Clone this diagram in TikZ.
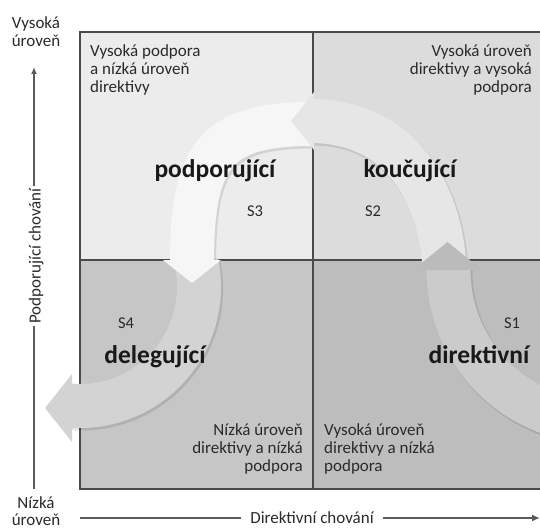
\documentclass[tikz,border=0pt]{standalone}
\usepackage{fontspec}
\setmainfont{Carlito}
\usetikzlibrary{arrows.meta}

\definecolor{quadTL}{HTML}{ECECEC}
\definecolor{quadTR}{HTML}{DCDCDC}
\definecolor{quadBL}{HTML}{C6C6C6}
\definecolor{quadBR}{HTML}{BDBDBD}
\definecolor{arrowone}{HTML}{CBCBCB}
\definecolor{arrowonehead}{HTML}{BBBBBB}
\definecolor{arrowtwo}{HTML}{E6E6E6}
\definecolor{arrowthree}{HTML}{F6F6F6}
\definecolor{arrowfour}{HTML}{D3D3D3}
\definecolor{gridline}{HTML}{4A4A4A}
\definecolor{axisline}{HTML}{5A5A5A}
\definecolor{plaintext}{HTML}{2A2A2A}

\begin{document}
\begin{tikzpicture}[x=1pt, y=1pt,
		grid/.style={draw=gridline, line width=1.3pt},
		quadtext/.style={inner sep=0pt, text=plaintext, font=\fontsize{17}{18.3}\selectfont},
		stylelabel/.style={inner sep=0pt, text=black!90, font=\fontsize{25.5}{28}\selectfont\bfseries},
		stagelabel/.style={inner sep=0pt, text=plaintext, font=\fontsize{16.5}{18}\selectfont},
		axis/.style={draw=axisline, line width=1.5pt},
		band/.style={line width=44pt},
		bandshadow/.style={line width=45pt, draw=black, opacity=0.10, shift={(1.5, -2)}},
	]
		\useasboundingbox (0, 0) rectangle (540, 531);
		\clip (0, 0) rectangle (540, 531);

		% quadrants
		\fill[quadTL] (80, 271) rectangle (313, 499);
		\fill[quadTR] (313, 271) rectangle (546, 499);
		\fill[quadBL] (80, 42) rectangle (313, 271);
		\fill[quadBR] (313, 42) rectangle (546, 271);
		\draw[grid] (80, 42) rectangle (546, 499);
		\draw[grid] (313, 42) -- (313, 499);
		\draw[grid] (80, 271) -- (546, 271);

		% S4 arrow
		\draw[bandshadow] (80, 244) ++(12:119) arc[start angle=12, end angle=-95, radius=119];
		\draw[band, arrowfour] (80, 244) ++(12:119) arc[start angle=12, end angle=-95, radius=119];
		\fill[arrowfour] (72, 89) -- (45, 123) -- (72, 157) -- cycle;

		% S3 arrow
		\draw[bandshadow] (312, 407) .. controls (215, 407) and (192, 375) .. (192, 268);
		\draw[band, arrowthree] (312, 407) .. controls (215, 407) and (192, 375) .. (192, 268);
		\fill[arrowthree] (163, 271) -- (192, 248) -- (221, 271) -- cycle;

		% S2 arrow
		\draw[bandshadow] (444, 270) .. controls (438, 345) and (395, 410) .. (311, 410);
		\draw[band, arrowtwo] (444, 270) .. controls (438, 345) and (395, 410) .. (311, 410);
		\fill[arrowtwo] (314, 381) -- (291, 410) -- (314, 439) -- cycle;

		% S1 arrow
		\draw[bandshadow] (600, 261) ++(252:151.5) arc[start angle=252, end angle=178, radius=151.5];
		\draw[band, arrowone] (600, 261) ++(252:151.5) arc[start angle=252, end angle=178, radius=151.5];
		\fill[arrowonehead] (413, 261) -- (447.5, 289) -- (482, 261) -- cycle;

		% quadrant texts
		\node[quadtext, align=left, anchor=north west] at (90, 487) (tltext) {Vysoká podpora\\a nízká úroveň\\direktivy};
		\node[quadtext, align=right, anchor=north east] at (532, 487) (trtext) {Vysoká úroveň\\direktivy a vysoká\\podpora};
		\node[quadtext, align=right, anchor=north east] at (303, 108) (bltext) {Nízká úroveň\\direktivy a nízká\\podpora};
		\node[quadtext, align=left, anchor=north west] at (324, 108) (brtext) {Vysoká úroveň\\direktivy a nízká\\podpora};

		% styles and stages
		\node[stylelabel, anchor=base] at (215, 354) (podp) {podporující};
		\node[stylelabel, anchor=base] at (410, 354) (kouc) {koučující};
		\node[stylelabel, anchor=base] at (155, 168) (deleg) {delegující};
		\node[stylelabel, anchor=base] at (479, 168) (direkt) {direktivní};
		\node[stagelabel, anchor=base] at (255, 315) (sthree) {S3};
		\node[stagelabel, anchor=base] at (373, 315) (stwo) {S2};
		\node[stagelabel, anchor=base] at (126, 203) (sfour) {S4};
		\node[stagelabel, anchor=base] at (512, 203) (sone) {S1};

		% axes
		\node[quadtext, align=center, anchor=north] at (36, 515) (hightext) {Vysoká\\úroveň};
		\node[quadtext, align=center, anchor=north, font=\fontsize{17}{17.5}\selectfont] at (36, 35) (lowtext) {Nízká\\úroveň};
		\node[quadtext, rotate=90, anchor=base, inner xsep=2pt] at (40.5, 275) (ylabel) {Podporující chování};
		\node[quadtext, anchor=base, inner xsep=9pt] at (312, 8) (xlabel) {Direktivní chování};
		\coordinate (ybottom) at (34, 42);
		\coordinate (ytop) at (34, 464);
		\coordinate (xstart) at (80, 13);
		\coordinate (xend) at (540, 13);
		\draw[axis] (ybottom) -- (ybottom |- ylabel.west);
		\draw[axis, -{Latex[length=7pt, width=6pt]}] (ytop |- ylabel.east) -- (ytop);
		\draw[axis] (xstart) -- (xstart -| xlabel.west);
		\draw[axis, -{Latex[length=8pt, width=7pt]}] (xend -| xlabel.east) -- (xend);
\end{tikzpicture}
\end{document}
